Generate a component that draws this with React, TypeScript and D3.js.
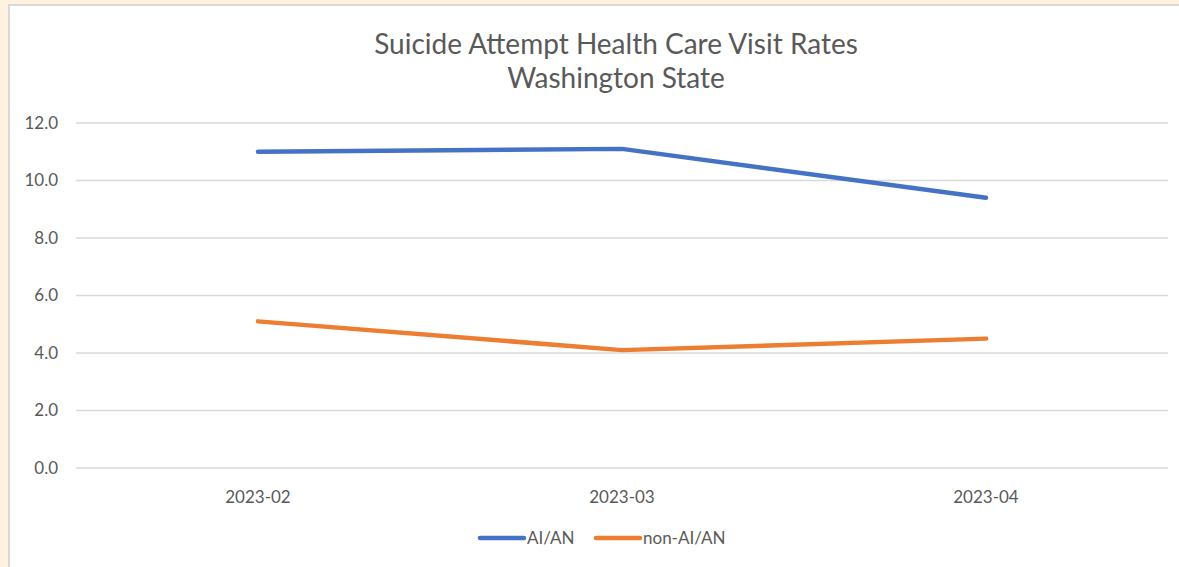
import { useEffect, useRef } from "react";
import * as d3 from "d3";

const months = ["2023-02", "2023-03", "2023-04"];
const aian = [11.0, 11.1, 9.4];
const nonAian = [5.1, 4.1, 4.5];
const yTicks = [0, 2, 4, 6, 8, 10, 12];
const seriesNames = ["AI/AN", "non-AI/AN"];
const seriesColors = ["#4472C4", "#ED7D31"];
const titleLines = ["Suicide Attempt Health Care Visit Rates", "Washington State"];

const W = 1179, H = 567;
const FONT = "Lato, 'Open Sans', sans-serif";

export default function App() {
  const ref = useRef<SVGSVGElement | null>(null);

  useEffect(() => {
    if (!ref.current) return;
    const svg = d3.select(ref.current);
    svg.selectAll("*").remove();

    // cream page + white chart box
    svg.append("rect").attr("width", W).attr("height", H).attr("fill", "#FFF2E1");
    svg.append("rect")
      .attr("x", 9).attr("y", 5).attr("width", W + 10).attr("height", H + 10)
      .attr("fill", "#fff").attr("stroke", "#D9D9D9").attr("stroke-width", 2);

    const margin = { top: 123, right: 11, bottom: 99, left: 76 };
    const w = W - margin.left - margin.right;
    const h = H - margin.top - margin.bottom;

    const x = d3.scaleBand().domain(months).range([0, w]);
    const y = d3.scaleLinear().domain([0, 12]).range([h, 0]);

    const g = svg.append("g").attr("transform", `translate(${margin.left},${margin.top})`);

    // gridlines
    g.append("g").selectAll("line").data(yTicks).join("line")
      .attr("x1", 0).attr("x2", w)
      .attr("y1", d => y(d)).attr("y2", d => y(d))
      .attr("stroke", "#D9D9D9").attr("stroke-width", 1.5);

    // y labels
    g.append("g").selectAll("text").data(yTicks).join("text")
      .attr("x", -18).attr("y", d => y(d)).attr("dy", "0.35em")
      .attr("text-anchor", "end")
      .attr("font-family", FONT).attr("font-size", 17).attr("fill", "#595959")
      .text(d => d3.format(".1f")(d));

    // x labels
    g.append("g").selectAll("text").data(months).join("text")
      .attr("x", d => x(d)! + x.bandwidth() / 2).attr("y", h + 35)
      .attr("text-anchor", "middle")
      .attr("font-family", FONT).attr("font-size", 17).attr("fill", "#595959")
      .text(d => d);

    const line = d3.line<number>()
      .x((_, i) => x(months[i])! + x.bandwidth() / 2)
      .y(d => y(d));

    [aian, nonAian].forEach((vals, i) => {
      g.append("path").datum(vals)
        .attr("fill", "none").attr("stroke", seriesColors[i])
        .attr("stroke-width", 4.5).attr("stroke-linecap", "round").attr("stroke-linejoin", "round")
        .attr("d", line);
    });

    // title
    svg.append("g").selectAll("text").data(titleLines).join("text")
      .attr("x", 616).attr("y", (_, i) => 54 + i * 34)
      .attr("text-anchor", "middle")
      .attr("font-family", FONT).attr("font-size", 28).attr("fill", "#595959")
      .text(d => d);

    // legend
    const legendX = [480, 596];
    const lg = svg.append("g").attr("transform", "translate(0,538)");
    seriesNames.forEach((name, i) => {
      lg.append("line")
        .attr("x1", legendX[i]).attr("x2", legendX[i] + 44).attr("y1", 0).attr("y2", 0)
        .attr("stroke", seriesColors[i]).attr("stroke-width", 4.5).attr("stroke-linecap", "round");
      lg.append("text")
        .attr("x", legendX[i] + 47).attr("y", 0).attr("dy", "0.35em")
        .attr("font-family", FONT).attr("font-size", 17).attr("fill", "#595959")
        .text(name);
    });
  }, []);

  return (
    <svg ref={ref} width={W} height={H}
      style={{ position: "absolute", left: 0, top: 0, display: "block" }}
      role="img" aria-label="Suicide attempt health care visit rates, Washington State" />
  );
}
